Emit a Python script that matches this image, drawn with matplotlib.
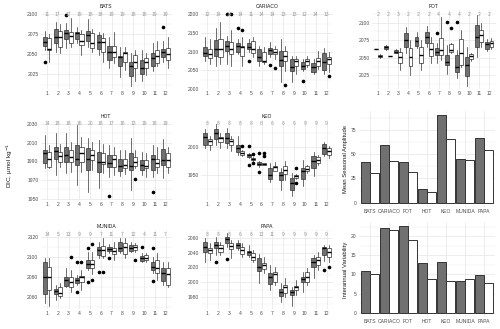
import matplotlib
matplotlib.use("Agg")
import matplotlib.pyplot as plt
from matplotlib.ticker import AutoMinorLocator
import matplotlib.transforms as mtransforms

plt.rcParams['font.family'] = ['Liberation Sans', 'DejaVu Sans']

months = list(range(1, 13))

# ---- box statistics: [whisker_lo, q1, median, q3, whisker_hi] per month ----
BATS_A = [[2055.6, 2060.9, 2065.8, 2071.2, 2079.4], [2053.5, 2063.8, 2072, 2081.5, 2090], [2057.6, 2068.7, 2076, 2080, 2089],
          [2063.8, 2068.7, 2076, 2078, 2084], [2059.7, 2067, 2074, 2079.4, 2094], [2049, 2056.4, 2065, 2074, 2078],
          [2033, 2042.4, 2053.5, 2060.9, 2072], [2022, 2035, 2047.3, 2048, 2059.7], [2011, 2022.6, 2035.8, 2041, 2051.4],
          [2016.5, 2026, 2033, 2043, 2055.6], [2029, 2035, 2046, 2052, 2063.8], [2041, 2046.5, 2052.7, 2056.4, 2066]]
BATS_B = [[2041, 2055.5, 2057, 2070, 2075], [2051.4, 2059.7, 2072, 2079.4, 2087.6], [2059.7, 2063.8, 2072.8, 2077.4, 2094.7],
          [2049, 2061.7, 2067, 2075.3, 2080], [2053.5, 2057.6, 2063.8, 2076, 2082], [2041, 2053.5, 2065, 2070, 2076],
          [2039, 2047.3, 2052.7, 2060.9, 2078], [2031, 2041, 2051.4, 2053.5, 2059.7], [2016.5, 2033, 2040, 2049.4, 2055.6],
          [2024.7, 2033, 2041, 2045, 2051.4], [2035, 2039, 2048, 2055.6, 2066], [2033, 2043, 2050.6, 2057.6, 2072]]
BATS_A_OUT = {1: [2041], 3: [2098.8], 12: [2083.5]}
BATS_B_OUT = {}
BATS_N = [11, 17, 17, 19, 18, 18, 19, 19, 18, 18, 19, 19]

CARIACO_A = [[2076, 2088, 2096, 2112, 2139], [2063, 2089.7, 2107.6, 2132.7, 2163], [2067, 2103, 2116.6, 2128, 2143.5],
             [2094, 2098.7, 2116.6, 2123, 2134.5], [2098.7, 2107.6, 2112, 2123, 2134.5], [2063, 2076, 2087, 2106, 2116.6],
             [2085, 2094, 2105, 2109, 2125.6], [2019.7, 2063, 2078, 2103, 2134.5], [2018, 2049.3, 2060, 2080.7, 2089.7],
             [2049.3, 2054, 2063, 2073.5, 2080.7], [2040, 2046.6, 2058, 2069, 2080.7], [2040, 2052, 2071.7, 2096, 2109]]
CARIACO_B = [[2067, 2082.5, 2094, 2107.6, 2134.5], [2067, 2085, 2106, 2134.5, 2179], [2063, 2094, 2107.6, 2125.6, 2159.6],
             [2063, 2089.7, 2112, 2116.6, 2139], [2085, 2096, 2107.6, 2130, 2139], [2067, 2073.5, 2076, 2098.7, 2112],
             [2080.7, 2094, 2100.5, 2107.6, 2116.6], [2049.3, 2076, 2088, 2103, 2116.6], [2040, 2063, 2074.4, 2080.7, 2089.7],
             [2058, 2065.5, 2076, 2080.7, 2089.7], [2054, 2063, 2076, 2083.4, 2103], [2045, 2067, 2080.7, 2085, 2098.7]]
CARIACO_A_OUT = {3: [2200], 4: [2163], 5: [2076], 7: [2064.6], 10: [2022.4]}
CARIACO_B_OUT = {3: [2202], 4: [2159.6], 7: [2056.5], 8: [2010.8], 12: [2034]}
CARIACO_N = [12, 14, 14, 14, 11, 14, 14, 13, 13, 12, 14, 13]

FOT_A = [[2062, 2062, 2062, 2062, 2062], [2061.5, 2062.5, 2065, 2067, 2068.5], [2056.3, 2057.3, 2058.7, 2061, 2062],
         [2056.3, 2065.8, 2075.3, 2084.8, 2094.3], [2063.5, 2067, 2074.4, 2080, 2086], [2065.8, 2070.6, 2080, 2087, 2095],
         [2042, 2054, 2058.7, 2064.4, 2070.6], [2027, 2039.7, 2043.5, 2054, 2068], [2020.7, 2030, 2037, 2054, 2061],
         [2010, 2024, 2039.7, 2051.6, 2065.8], [2050.6, 2065.8, 2080, 2096.7, 2111], [2060, 2062.5, 2069, 2073, 2076.3]]
FOT_B = [[2050, 2050.6, 2052.5, 2054, 2055], [2053, 2053, 2053, 2053, 2053], [2032.6, 2042, 2050.6, 2058.7, 2063.5],
         [2025.5, 2038.3, 2050.6, 2063.5, 2075.3], [2032.6, 2043, 2054, 2065.8, 2075.3], [2043, 2052.5, 2062, 2071.5, 2080],
         [2047, 2054, 2061, 2077.7, 2108.5], [2056.3, 2058.7, 2061, 2069, 2070.6], [2037, 2039.7, 2056.3, 2076.3, 2089.6],
         [2046, 2047.8, 2052.5, 2055.4, 2057.3], [2065.8, 2073, 2082.4, 2089.6, 2099], [2062, 2065.8, 2070.6, 2074.4, 2077.7]]
FOT_A_OUT = {7: [2084.8], 8: [2101.4], 9: [2101.4]}
FOT_B_OUT = {8: [2092]}
FOT_N = [2, 2, 3, 2, 2, 2, 4, 4, 4, 2, 2, 2]

HOT_A = [[1982.5, 1988, 1999, 2002, 2018], [1975.4, 1992, 2001.4, 2005.7, 2020], [1977, 1989.6, 1996.8, 2005.7, 2020],
         [1964.6, 1986, 1993, 2007.5, 2029], [1957.5, 1980.7, 1993, 2004, 2014.6], [1961, 1979, 1989.6, 2000.4, 2013],
         [1973.6, 1984, 1988, 1996.8, 2007.5], [1974, 1980, 1985.4, 1993, 2002], [1959, 1980.7, 1985, 1998.6, 2014.6],
         [1975.4, 1980.7, 1986, 1991.4, 2000.4], [1973.6, 1980.7, 1993, 1996.8, 2007.5], [1971.8, 1986, 1991.4, 2003, 2013.6]]
HOT_B = [[1982.5, 1984, 1992, 2000.4, 2007.5], [1984, 1989.6, 1995.7, 2000.4, 2009], [1979, 1989.6, 1995, 2002, 2011],
         [1979, 1989.6, 1999, 2005.7, 2016.4], [1980.7, 1991.4, 1996.8, 2002, 2011], [1977, 1987, 1989.6, 1998.6, 2009],
         [1975.4, 1983.6, 1992, 1996.8, 2005.7], [1976.4, 1982.5, 1986, 1993, 2002], [1982.5, 1985, 1989.6, 1994.3, 2002],
         [1973.6, 1982.5, 1985.4, 1991.4, 1998.6], [1977, 1984, 1988, 1993, 2005.7], [1977, 1984, 1991.4, 1998.6, 2005.7]]
HOT_A_OUT = {7: [1953], 11: [1957.5]}
HOT_B_OUT = {9: [1971]}
HOT_N = [14, 18, 18, 16, 20, 18, 17, 18, 13, 19, 18, 19]

KEO_A = [[1998.8, 2004.8, 2018.7, 2026, 2033], [2004.8, 2015, 2026, 2032, 2041], [1998.8, 2007.8, 2017, 2026, 2035],
         [1986.7, 1991, 1998.8, 2003.6, 2020], [1980, 1982.5, 1986, 1988.6, 1990], [1965, 1967.5, 1970.5, 1973.5, 1975],
         [1936.7, 1942.8, 1950.6, 1962.7, 1971.7], [1922.3, 1941.6, 1950.6, 1954.8, 1962.7], [1912.7, 1922.3, 1935.5, 1944.6, 1953.6],
         [1930.7, 1943.4, 1956.6, 1962.7, 1977.7], [1947.6, 1962.7, 1974.7, 1983.7, 1991.6], [1983.7, 1988.6, 1998.8, 2006, 2009]]
KEO_B = [[1995.8, 2004.8, 2010.8, 2015, 2020], [1998.8, 2009, 2017, 2018.7, 2026], [1992.8, 2004.8, 2010.8, 2015, 2020],
         [1983.7, 1986.7, 1989.8, 1992.8, 1995.8], [1975, 1976.5, 1979, 1980.7, 1982], [1968, 1968.7, 1970, 1971.7, 1972.5],
         [1956.6, 1957.8, 1963.9, 1966.9, 1972.9], [1941.6, 1952.4, 1959.6, 1965.7, 1975.9], [1943.5, 1944.6, 1947.6, 1950.6, 1952],
         [1953.6, 1956.6, 1960.8, 1965.7, 1968.7], [1968.7, 1971.7, 1976.5, 1982.5, 1986.7], [1980.7, 1986.7, 1994, 1998.8, 2001.8]]
KEO_A_OUT = {5: [2003, 1967.5], 6: [1989.8, 1955]}
KEO_B_OUT = {4: [2003], 5: [1988, 1972], 6: [1989.8, 1983.7], 9: [1962.7, 1935.5]}
KEO_N = [8, 8, 8, 8, 8, 8, 6, 6, 6, 9, 9, 9]

MUNIDA_A = [[2054, 2063.3, 2080.4, 2095.3, 2098.6], [2057.4, 2063.3, 2066.3, 2068.2, 2072.2], [2070.5, 2071.5, 2077.1, 2080.4, 2089.3],
            [2072.2, 2073.8, 2077.1, 2078.8, 2082], [2087, 2089.3, 2092.6, 2097, 2105], [2098.6, 2101.9, 2106.8, 2110, 2115],
            [2103.5, 2105.8, 2107.8, 2109.4, 2112.4], [2103.5, 2105.8, 2108.5, 2115, 2119], [2104.5, 2105.8, 2109, 2111.8, 2115],
            [2095.3, 2096, 2099.2, 2101.2, 2103.5], [2083.7, 2087, 2090.3, 2095.3, 2100.2], [2072.2, 2076.1, 2084.4, 2089.3, 2095.3]]
MUNIDA_B = [[2051.8, 2067.2, 2080.4, 2090.3, 2098.6], [2059, 2061.6, 2064, 2070.5, 2073.8], [2065.6, 2070.5, 2075.5, 2080.4, 2087],
            [2067.2, 2075.5, 2080.4, 2081.4, 2087], [2082.7, 2088.7, 2092.6, 2097, 2104.5], [2098.6, 2101.2, 2106.8, 2111, 2119],
            [2097, 2102.5, 2105.8, 2108.5, 2115], [2099.2, 2102.5, 2110, 2113.4, 2118.4], [2104.5, 2106.8, 2110, 2111.8, 2113.4],
            [2095.3, 2097, 2099.2, 2101.9, 2103.5], [2077.1, 2083.7, 2088.7, 2097, 2103.5], [2070.5, 2072.2, 2082.7, 2089.3, 2095.3]]
MUNIDA_A_OUT = {4: [2095.3, 2065.6], 5: [2109, 2075.5], 6: [2084.7], 7: [2098.6], 10: [2109.4], 11: [2108.5, 2076.1]}
MUNIDA_B_OUT = {3: [2100.2], 4: [2094.6], 5: [2112.4, 2077], 6: [2085.4], 9: [2097]}
MUNIDA_N = [14, 5, 13, 9, 9, 7, 11, 7, 12, 4, 11, 7]

PAPA_A = [[2027.6, 2040.2, 2047.9, 2053.7, 2059], [2036.6, 2045.6, 2050, 2054.6, 2061.3], [2047.9, 2052.4, 2058.2, 2061.3, 2065.8],
          [2043.4, 2045.6, 2050, 2052.4, 2056.9], [2034.4, 2036.6, 2040.2, 2042.5, 2050], [1999, 2015, 2021, 2032, 2037.5],
          [1989.4, 1997.5, 2007.4, 2012, 2023], [1972.8, 1981.3, 1986.3, 1990.8, 1998.4], [1968.3, 1982.7, 1987.2, 1989.4, 1994],
          [1987.2, 1999.8, 2004.3, 2007.4, 2014.2], [2005.2, 2021, 2027.6, 2032, 2036.6], [2028.5, 2036.6, 2045.6, 2047.9, 2050]]
PAPA_B = [[2030, 2038.9, 2043.4, 2046.5, 2052.4], [2036.6, 2040.2, 2046.5, 2050, 2054.6], [2033, 2044.3, 2049.2, 2052.4, 2056.9],
          [2034.4, 2037.5, 2043.4, 2047, 2052.4], [2027.6, 2030, 2034.4, 2038.9, 2043.4], [2012, 2017.8, 2023, 2026.3, 2034.4],
          [1996.2, 2000.7, 2010.6, 2013.3, 2021], [1980.4, 1985, 1994, 1996.2, 2006], [1982.7, 1989.4, 1994, 1995.3, 2003],
          [1996.2, 2000.7, 2007.4, 2013.3, 2018.7], [2016.4, 2023, 2030, 2034.4, 2040.2], [2027.6, 2034.4, 2040.2, 2045.6, 2050]]
PAPA_A_OUT = {2: [2027.6], 3: [2030.8], 12: [2016.4]}
PAPA_B_OUT = {12: [2021]}
PAPA_N = [8, 8, 8, 6, 6, 12, 11, 9, 9, 9, 9, 9]

# ---- bar chart values ----
stations = ['BATS', 'CARIACO', 'FOT', 'HOT', 'KEO', 'MUNIDA', 'PAPA']
amp_gray = [41.8, 59.5, 41.5, 14.2, 90.2, 44.9, 66.4]
amp_white = [30.8, 43.2, 31.5, 11.1, 65.7, 43.9, 54.6]
iav_gray = [10.8, 22.2, 22.6, 13.1, 13.2, 8.3, 9.8]
iav_white = [10.0, 21.5, 19.1, 8.7, 8.3, 8.9, 7.7]

# ---- styling ----
W, H = 500, 329
GRAY = '#707070'
EDGE = '#333333'
GRID = '#e6e6e6'
TICKC = '#4d4d4d'
FS = 3.6

fig = plt.figure(figsize=(W / 100, H / 100), dpi=100)


def add_ax(x0, y0, x1, y1):
    return fig.add_axes([x0 / W, 1 - y1 / H, (x1 - x0) / W, (y1 - y0) / H])


def style(ax):
    for s in ax.spines.values():
        s.set_visible(False)
    ax.tick_params(length=0, pad=1.5, labelsize=FS, colors=TICKC)
    ax.grid(True, which='major', color=GRID, lw=0.5)
    ax.grid(True, which='minor', axis='y', color=GRID, lw=0.25)
    ax.set_axisbelow(True)


def make_stats(rows, outs):
    st = []
    for i, r in enumerate(rows):
        st.append(dict(whislo=r[0], q1=r[1], med=r[2], q3=r[3], whishi=r[4],
                       fliers=outs.get(i + 1, [])))
    return st


def box_panel(rect, title, A, B, A_out, B_out, N, ylim, yticks):
    ax = add_ax(*rect)
    style(ax)
    common = dict(widths=0.38, patch_artist=True, showfliers=True, manage_ticks=False,
                  whiskerprops=dict(color=EDGE, lw=0.5), capprops=dict(lw=0),
                  medianprops=dict(color='black', lw=1.0),
                  flierprops=dict(marker='o', markersize=1.6, markerfacecolor='black',
                                  markeredgecolor='black', lw=0))
    ax.bxp(make_stats(A, A_out), positions=[m - 0.2 for m in months],
           boxprops=dict(facecolor=GRAY, edgecolor=EDGE, lw=0.5), **common)
    ax.bxp(make_stats(B, B_out), positions=[m + 0.2 for m in months],
           boxprops=dict(facecolor='white', edgecolor=EDGE, lw=0.5), **common)
    ax.set_xlim(0.4, 12.6)
    ax.set_ylim(*ylim)
    ax.set_xticks(months)
    ax.set_xticklabels([str(m) for m in months])
    ax.set_yticks(yticks)
    ax.yaxis.set_minor_locator(AutoMinorLocator(2))
    ax.tick_params(which='minor', length=0)
    trans = mtransforms.blended_transform_factory(ax.transData, ax.transAxes)
    y0, y1 = rect[1], rect[3]
    frac = 1 - 4.0 / (y1 - y0)
    for m, n in zip(months, N):
        ax.text(m, frac, str(n), transform=trans, ha='center', va='center',
                fontsize=FS, color='#9a9a9a')
    ax.set_title(title, fontsize=FS, color='#1a1a1a', pad=1.2)
    return ax


box_panel((40.5, 10, 172, 89), 'BATS', BATS_A, BATS_B, BATS_A_OUT, BATS_B_OUT, BATS_N,
          (2007, 2105), [2025, 2050, 2075, 2100])
box_panel((201, 10, 333, 89), 'CARIACO', CARIACO_A, CARIACO_B, CARIACO_A_OUT, CARIACO_B_OUT, CARIACO_N,
          (2000, 2212), [2000, 2050, 2100, 2150, 2200])
box_panel((372, 10, 495.5, 89), 'FOT', FOT_A, FOT_B, FOT_A_OUT, FOT_B_OUT, FOT_N,
          (2005.6, 2118), [2025, 2050, 2075, 2100])
box_panel((40.5, 120, 172, 200), 'HOT', HOT_A, HOT_B, HOT_A_OUT, HOT_B_OUT, HOT_N,
          (1948.6, 2034.3), [1950, 1970, 1990, 2010, 2030])
box_panel((201, 120, 333, 200), 'KEO', KEO_A, KEO_B, KEO_A_OUT, KEO_B_OUT, KEO_N,
          (1905, 2049), [1950, 2000])
box_panel((40.5, 230, 172, 309), 'MUNIDA', MUNIDA_A, MUNIDA_B, MUNIDA_A_OUT, MUNIDA_B_OUT, MUNIDA_N,
          (2048.4, 2126.6), [2060, 2080, 2100, 2120])
box_panel((201, 230, 333, 309), 'PAPA', PAPA_A, PAPA_B, PAPA_A_OUT, PAPA_B_OUT, PAPA_N,
          (1963.8, 2070.4), [1980, 2000, 2020, 2040, 2060])


def bar_panel(rect, g, w, ylim, yticks, ylabel):
    ax = add_ax(*rect)
    style(ax)
    x = list(range(len(stations)))
    ax.bar([i - 0.225 for i in x], g, width=0.45, color=GRAY, edgecolor=EDGE, lw=0.7)
    ax.bar([i + 0.225 for i in x], w, width=0.45, color='white', edgecolor=EDGE, lw=0.7)
    ax.set_xlim(-0.6, len(stations) - 0.4)
    ax.set_ylim(*ylim)
    ax.set_xticks(x)
    ax.set_xticklabels(stations)
    ax.set_yticks(yticks)
    ax.yaxis.set_minor_locator(AutoMinorLocator(2))
    ax.tick_params(which='minor', length=0)
    ax.set_ylabel(ylabel, fontsize=4.2, color='#1a1a1a', labelpad=2)
    return ax


bar_panel((358.6, 111, 495.4, 207), amp_gray, amp_white, (-4.5, 94.7), [0, 25, 50, 75],
          'Mean Seasonal Amplitude')
bar_panel((358.6, 222, 495.4, 317), iav_gray, iav_white, (-1.13, 23.7), [0, 5, 10, 15, 20],
          'Interannual Variability')

fig.text(10 / W, 1 - 165 / H, 'DIC, μmol kg$^{-1}$', rotation=90, ha='center', va='center',
         fontsize=4.6, color='#1a1a1a')

fig.savefig('out.png', dpi=100)
